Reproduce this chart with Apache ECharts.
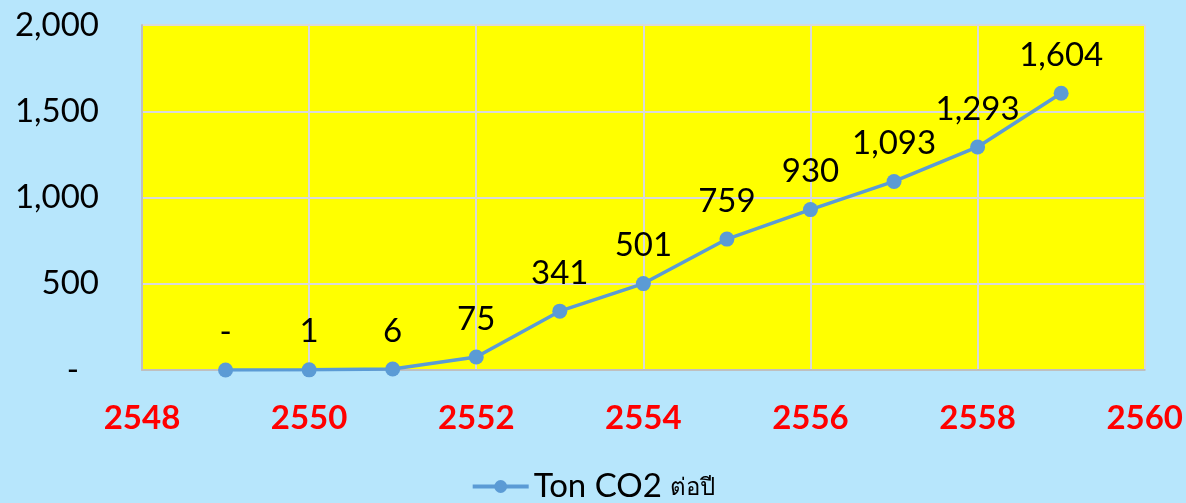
<!DOCTYPE html>
<html>
<head>
<meta charset="utf-8">
<script src="https://cdn.jsdelivr.net/npm/echarts@6/dist/echarts.min.js"></script>
<style>
html,body{margin:0;padding:0;background:#B7E6FC;}
#c{width:1186px;height:503px;}
</style>
</head>
<body>
<div id="c"></div>
<script>
var years = [2549, 2550, 2551, 2552, 2553, 2554, 2555, 2556, 2557, 2558, 2559];
var values = [0, 1, 6, 75, 341, 501, 759, 930, 1093, 1293, 1604];
var seriesName = 'Ton CO2 ต่อปี';
var xMin = 2548, xMax = 2560, xStep = 2;
var yMin = 0, yMax = 2000, yStep = 500;

function fmt(v){
  if (v === 0) return '-';
  return v.toLocaleString('en-US');
}

var chart = echarts.init(document.getElementById('c'));
chart.setOption({
  backgroundColor: '#B7E6FC',
  animation: false,
  textStyle: {fontFamily: 'Lato, "Noto Sans", sans-serif'},
  grid: {left: 142, right: 40, top: 25, bottom: 133, show: true, backgroundColor: '#FFFF00', borderWidth: 0},
  xAxis: {
    type: 'value', min: xMin, max: xMax, interval: xStep,
    axisLine: {show: true, onZero: false, lineStyle: {color: '#BFBFBF', width: 2}},
    axisTick: {show: false},
    splitLine: {show: true, lineStyle: {color: '#D9D9D9', width: 2}},
    axisLabel: {color: '#FF0000', fontWeight: 'bold', fontSize: 33, margin: 32, fontFamily: 'Lato, sans-serif',
      formatter: function(v){ return String(v); }}
  },
  yAxis: {
    type: 'value', min: yMin, max: yMax, interval: yStep,
    axisLine: {show: true, lineStyle: {color: '#BFBFBF', width: 2}},
    axisTick: {show: false},
    splitLine: {show: true, lineStyle: {color: '#D9D9D9', width: 2}},
    axisLabel: {
      color: '#000', fontSize: 33, margin: 43, fontFamily: 'Lato, sans-serif',
      formatter: function(v){ return v === 0 ? '{d|-}' : fmt(v); },
      rich: {d: {fontSize: 33, padding: [0, 20, 0, 0], color: '#000', fontFamily: 'Lato, sans-serif'}}
    }
  },
  legend: {
    bottom: -5, left: 'center',
    itemWidth: 56, itemHeight: 16, itemGap: 6,
    data: [seriesName],
    lineStyle: {width: 4, color: '#5B9BD5'},
    formatter: function(){ return '{a|Ton CO2 }{b|ต่อปี}'; },
    textStyle: {
      color: '#000',
      rich: {
        a: {fontSize: 33, fontFamily: 'Lato, sans-serif', color: '#000'},
        b: {fontSize: 24, fontFamily: '"Noto Sans", "DejaVu Sans", sans-serif', color: '#000', padding: [4, 0, 0, 0]}
      }
    }
  },
  series: [{
    name: seriesName,
    type: 'line',
    data: years.map(function(y, i){ return [y, values[i]]; }),
    symbol: 'circle', symbolSize: 15,
    lineStyle: {color: '#5B9BD5', width: 3.5},
    itemStyle: {color: '#5B9BD5'},
    label: {
      show: true, position: 'top', distance: 14,
      color: '#000', fontSize: 33, fontFamily: 'Lato, sans-serif',
      formatter: function(p){ return fmt(p.value[1]); }
    }
  }]
});
</script>
</body>
</html>
